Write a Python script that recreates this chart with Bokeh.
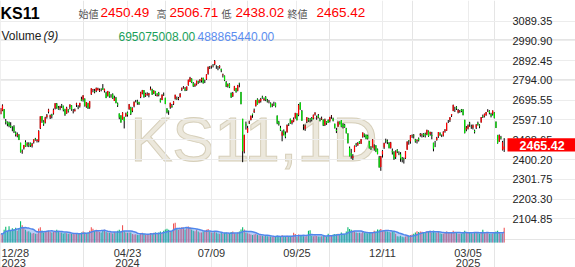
from bokeh.plotting import figure
from bokeh.models import Range1d, FixedTicker, Grid, Label, ColumnDataSource
from bokeh.embed import file_html
from bokeh.resources import INLINE
import pandas as pd

# ---------------- data (KS11 daily, 2023-12-28 .. 2025-04-04) ----------------
opens = [2627,2645,2651,2592,2586,2584,2570,2563,2563,2535,
 2519,2523,2484,2438,2456,2488,2474,2478,2481,2468,
 2486,2504,2492,2491,2556,2617,2589,2585,2612,2638,
 2610,2625,2629,2654,2678,2658,2654,2671,2667,2650,
 2630,2649,2662,2670,2641,2641,2673,2662,2666,2700,
 2698,2703,2664,2681,2659,2726,2747,2742,2741,2745,
 2742,2748,2757,2741,2733,2718,2734,2716,2725,2692,
 2708,2679,2630,2620,2601,2612,2616,2634,2651,2661,
 2643,2666,2692,2689,2685,2712,2729,2746,2719,2723,
 2721,2747,2750,2730,2741,2718,2732,2700,2697,2724,
 2708,2655,2639,2661,2667,2678,2703,2704,2702,2712,
 2748,2756,2754,2746,2771,2788,2802,2782,2766,2774,
 2790,2792,2794,2807,2793,2800,2827,2859,2864,2869,
 2875,2858,2862,2860,2851,2820,2817,2787,2766,2777,
 2731,2716,2744,2757,2743,2780,2737,2603,2440,2578,
 2535,2585,2597,2627,2637,2667,2701,2683,2690,2713,
 2696,2712,2693,2688,2680,2670,2681,2682,2618,2586,
 2558,2519,2544,2525,2535,2578,2603,2582,2590,2606,
 2628,2622,2684,2642,2564,2554,2590,2604,2600,2607,
 2604,2625,2608,2620,2599,2601,2599,2572,2589,2597,
 2592,2616,2605,2579,2547,2565,2588,2596,2573,2574,
 2556,2530,2459,2433,2408,2439,2476,2470,2491,2479,
 2514,2526,2524,2519,2491,2459,2462,2455,2471,2451,
 2410,2363,2425,2460,2497,2494,2483,2458,2444,2436,
 2413,2449,2433,2427,2406,2400,2407,2449,2495,2490,
 2520,2520,2500,2494,2505,2522,2521,2529,2526,2525,
 2541,2527,2522,2484,2483,2497,2515,2532,2522,2519,
 2541,2544,2591,2596,2619,2642,2654,2661,2635,2640,
 2649,2650,2598,2550,2555,2580,2565,2559,2544,2560,
 2582,2571,2585,2616,2615,2622,2641,2642,2627,2627,
 2634,2588,2522,2490,2511,2449,2450.49]

highs = [2657,2675,2652,2602,2590,2589,2586,2566,2571,2540,
 2535,2527,2484,2450,2473,2496,2486,2486,2485,2483,
 2501,2508,2502,2546,2615,2617,2596,2613,2627,2653,
 2624,2628,2654,2681,2682,2667,2668,2677,2669,2653,
 2663,2651,2675,2671,2652,2654,2683,2671,2683,2713,
 2721,2705,2687,2683,2691,2755,2752,2752,2759,2758,
 2754,2755,2776,2753,2738,2742,2738,2726,2730,2718,
 2712,2684,2630,2621,2636,2613,2634,2639,2677,2663,
 2660,2689,2697,2698,2688,2738,2747,2746,2733,2735,
 2732,2764,2753,2746,2742,2731,2737,2705,2725,2734,
 2708,2656,2645,2683,2677,2691,2723,2714,2712,2731,
 2759,2766,2761,2764,2798,2812,2805,2786,2780,2793,
 2793,2800,2808,2808,2798,2825,2863,2866,2868,2876,
 2896,2870,2866,2870,2853,2828,2819,2791,2779,2780,
 2734,2737,2767,2757,2772,2783,2737,2603,2524,2589,
 2568,2594,2619,2629,2654,2697,2705,2699,2707,2718,
 2709,2716,2702,2697,2685,2679,2688,2684,2620,2593,
 2568,2545,2550,2540,2575,2581,2604,2597,2610,2633,
 2631,2677,2685,2647,2575,2575,2611,2608,2607,2612,
 2624,2636,2619,2627,2608,2614,2600,2604,2591,2600,
 2613,2622,2609,2579,2558,2590,2590,2596,2581,2578,
 2558,2531,2465,2453,2427,2470,2483,2487,2492,2502,
 2535,2530,2525,2524,2493,2467,2502,2476,2471,2455,
 2418,2418,2447,2484,2504,2500,2487,2488,2455,2442,
 2446,2452,2441,2437,2413,2410,2442,2491,2497,2522,
 2525,2527,2503,2501,2510,2532,2530,2532,2534,2549,
 2545,2539,2538,2484,2493,2513,2537,2536,2525,2541,
 2552,2583,2597,2611,2627,2674,2663,2666,2652,2647,
 2652,2651,2598,2567,2575,2588,2574,2575,2549,2576,
 2589,2576,2612,2624,2629,2637,2651,2646,2633,2645,
 2636,2590,2523,2525,2518,2493,2506.71]

lows = [2625,2641,2604,2575,2566,2561,2557,2541,2532,2515,
 2511,2497,2435,2429,2450,2463,2464,2462,2463,2460,
 2480,2494,2485,2486,2552,2583,2568,2580,2604,2630,
 2602,2605,2624,2650,2653,2648,2646,2657,2640,2618,
 2628,2634,2650,2643,2630,2640,2662,2651,2659,2691,
 2689,2664,2658,2652,2653,2722,2735,2730,2736,2745,
 2737,2740,2747,2734,2706,2714,2708,2708,2702,2692,
 2680,2662,2601,2584,2599,2555,2613,2614,2648,2622,
 2636,2660,2685,2673,2672,2706,2725,2708,2712,2718,
 2710,2745,2722,2726,2717,2714,2715,2684,2696,2717,
 2676,2630,2623,2653,2658,2672,2699,2697,2696,2709,
 2742,2753,2741,2742,2768,2786,2781,2762,2762,2769,
 2777,2782,2784,2778,2781,2797,2823,2851,2853,2859,
 2870,2852,2845,2853,2835,2809,2791,2761,2759,2756,
 2707,2712,2743,2733,2740,2760,2675,2386.96,2431,2549,
 2534,2577,2595,2608,2632,2664,2674,2680,2684,2703,
 2693,2691,2684,2680,2660,2661,2667,2660,2576,2569,
 2542,2491,2520,2506,2535,2567,2578,2575,2586,2604,
 2595,2616,2648,2593,2548,2543,2582,2588,2585,2590,
 2600,2619,2598,2606,2590,2597,2567,2567,2573,2583,
 2585,2603,2590,2555,2532,2563,2575,2561,2555,2558,
 2530,2480,2416,2404,2398,2437,2463,2469,2478,2478,
 2509,2511,2501,2500,2455,2448,2460,2444,2437,2426,
 2360,2344,2410,2453,2481,2477,2456,2455,2425,2398,
 2403,2432,2422,2389,2386,2380,2403,2449,2474,2479,
 2508,2505,2484,2480,2490,2514,2510,2512,2510,2521,
 2513,2519,2501,2441,2462,2494,2508,2518,2512,2515,
 2534,2543,2582,2587,2612,2641,2637,2647,2630,2633,
 2636,2620,2530,2541,2550,2563,2553,2550,2530,2552,
 2569,2556,2584,2607,2610,2618,2637,2625,2610,2619,
 2605,2557,2479,2488,2500,2445,2438.02]

closes = [2655.28,2669.81,2607.31,2587.02,2578.08,2567.82,2561.24,2562.24,2540.27,2525.05,
 2525.99,2497.59,2435.90,2440.04,2472.74,2464.35,2478.61,2469.69,2470.34,2478.56,
 2500.65,2498.81,2497.09,2542.46,2615.31,2591.31,2576.20,2609.58,2620.32,2649.64,
 2620.42,2617.80,2648.76,2680.26,2657.79,2653.31,2664.27,2667.70,2647.08,2625.05,
 2658.63,2642.36,2674.27,2649.40,2641.49,2647.62,2680.35,2660.30,2681.81,2693.57,
 2718.76,2666.84,2685.84,2656.17,2690.14,2754.86,2748.56,2737.57,2757.09,2755.11,
 2745.82,2746.63,2747.86,2753.16,2706.97,2742.00,2714.21,2717.65,2705.16,2706.96,
 2681.82,2670.43,2609.63,2584.18,2634.70,2591.86,2629.44,2623.02,2675.75,2628.62,
 2656.33,2687.44,2692.06,2683.65,2676.63,2734.36,2745.05,2712.14,2727.63,2727.21,
 2730.34,2753.00,2724.62,2742.14,2724.18,2723.46,2721.81,2687.60,2722.99,2722.85,
 2677.30,2635.44,2636.52,2682.52,2662.10,2689.50,2722.67,2701.17,2705.30,2728.17,
 2754.89,2758.42,2744.10,2763.92,2797.33,2807.63,2784.06,2764.73,2774.39,2792.05,
 2784.26,2797.82,2804.31,2780.86,2794.01,2824.94,2862.23,2857.76,2867.38,2867.99,
 2891.35,2857.00,2860.92,2866.09,2843.89,2824.35,2795.46,2763.51,2774.29,2758.71,
 2710.65,2731.90,2765.52,2738.19,2770.69,2777.68,2676.19,2441.55,2522.15,2568.41,
 2556.73,2588.43,2618.30,2621.50,2644.50,2697.23,2674.36,2696.63,2701.13,2707.67,
 2701.69,2698.01,2689.25,2689.83,2662.28,2674.31,2681.00,2664.63,2580.80,2576.20,
 2544.28,2535.93,2523.43,2513.37,2572.09,2575.41,2580.80,2593.37,2602.01,2631.68,
 2596.32,2671.57,2649.78,2593.27,2561.69,2569.71,2610.38,2594.36,2599.16,2596.91,
 2623.28,2633.45,2610.36,2609.30,2593.82,2604.07,2570.70,2599.62,2581.03,2583.27,
 2612.43,2617.80,2593.79,2556.15,2542.36,2588.97,2576.88,2563.51,2564.63,2561.15,
 2531.66,2482.57,2417.08,2418.86,2416.86,2469.07,2471.95,2482.29,2480.63,2501.24,
 2534.34,2520.36,2503.06,2504.67,2455.91,2453.95,2500.10,2464.00,2441.85,2428.16,
 2360.58,2417.84,2442.51,2482.12,2494.46,2488.97,2456.81,2484.43,2435.93,2404.15,
 2442.01,2440.52,2429.67,2404.77,2399.49,2398.94,2441.92,2488.64,2492.10,2521.05,
 2521.90,2515.78,2489.56,2497.42,2496.52,2527.49,2523.55,2520.05,2518.03,2547.06,
 2515.78,2536.80,2517.37,2453.95,2481.69,2509.27,2536.75,2521.92,2521.27,2539.05,
 2548.39,2583.17,2591.05,2610.42,2626.81,2671.52,2654.06,2654.58,2645.27,2641.09,
 2641.32,2621.75,2532.78,2558.13,2570.39,2576.16,2563.48,2570.39,2537.60,2574.82,
 2575.24,2566.36,2610.69,2612.34,2628.62,2637.10,2643.13,2632.95,2616.82,2643.94,
 2607.15,2557.98,2481.12,2521.39,2505.86,2486.70,2465.42]

# volume in millions of shares
volumes_m = [420,380,600,750,520,770,560,680,620,700,560,690,1010,820,700,610,520,540,480,430,450,410,420,
 660,720,560,480,520,540,560,510,480,500,560,600,520,480,470,430,450,440,420,
 430,410,420,390,440,400,430,470,520,480,450,470,560,720,650,560,600,540,500,480,
 560,600,500,480,460,470,430,500,470,560,610,520,820,540,480,460,480,470,400,380,390,
 370,360,430,460,420,380,370,400,450,420,460,480,430,470,520,440,560,620,650,600,
 540,520,900,940,650,600,640,720,700,620,680,760,730,620,560,540,600,520,480,
 470,520,560,600,640,520,480,460,520,480,430,410,450,420,460,470,420,400,500,520,440,420,480,
 520,620,730,620,480,440,410,380,360,380,400,370,340,330,320,300,310,300,290,280,270,
 260,280,330,300,290,340,280,270,320,260,300,290,460,400,260,380,320,350,
 300,280,320,560,580,320,300,330,310,290,280,300,320,310,290,420,340,360,380,400,
 390,420,380,480,420,400,520,730,640,600,560,520,480,450,460,440,520,470,450,440,480,
 460,500,560,520,620,600,640,560,580,540,520,500,480,520,520,420,300,280,320,270,
 250,290,310,310,360,380,420,480,540,500,520,510,480,500,540,520,560,480,
 560,480,460,500,440,420,430,450,520,480,470,450,560,480,460,420,410,430,470,560,
 480,460,500,440,420,480,450,470,430,480,600,440,460,450,420,420,430,450,520,554.713952,
 470,420,440,695.075008]

tick_idx = [0, 77, 128, 180, 232, 284]
tick_dates = ["12/28", "04/23", "07/09", "09/25", "12/11", "03/05"]
tick_years = ["2023", "2024", "", "", "", "2025"]
price_ticks = [2104.85, 2203.30, 2301.75, 2400.20, 2498.65, 2597.10,
               2695.55, 2794.00, 2892.45, 2990.90, 3089.35]
symbol = "KS11"
watermark = "KS11,1D"
vol_ma_period = 9

# ---------------- layout / styling ----------------
W, H = 575, 267            # canvas (the frame spans all of it)
PW, PH = 507, 242          # pane area (left of the price scale, above the date scale)
PX_PER_BAR = 1.645
X0 = -0.2
PRICE_TOP, PRICE_PER_PX = 3192.48, 4.9823
VOL_PER_PX = 47.5e6
UP, DOWN = "#ff0000", "#00e600"
VUP, VDOWN = "#f05050", "#00b86b"
GRID = "#ececec"
FONT = "Liberation Sans"
CJK = "Noto Sans CJK JP"

n = len(closes)
xs = list(range(n))
is_up = [c >= o for o, c in zip(opens, closes)]
vol = [v * 1e6 for v in volumes_m]
vol_ma = pd.Series(vol).rolling(vol_ma_period, min_periods=1).mean().tolist()

src = ColumnDataSource(dict(
    x=xs, o=opens, h=highs, l=lows, c=closes,
    top=[max(o, c) for o, c in zip(opens, closes)],
    bot=[min(o, c) for o, c in zip(opens, closes)],
    col=[UP if u else DOWN for u in is_up],
    vcol=[VUP if u else VDOWN for u in is_up],
    v=vol, vma=vol_ma,
))

x_end = X0 + W / PX_PER_BAR
x_pane_end = X0 + PW / PX_PER_BAR
y_bot = PRICE_TOP - H * PRICE_PER_PX
y_pane_bot = PRICE_TOP - PH * PRICE_PER_PX

p = figure(width=W, height=H, output_backend="svg", toolbar_location=None,
           x_range=Range1d(X0, x_end), y_range=Range1d(y_bot, PRICE_TOP),
           x_axis_location=None, y_axis_location=None,
           min_border=0, outline_line_color=None,
           background_fill_color="white", border_fill_color="white")
p.extra_y_ranges = {"vol": Range1d(-(H - PH) * VOL_PER_PX, PH * VOL_PER_PX)}

p.add_layout(Grid(dimension=1, ticker=FixedTicker(ticks=price_ticks), grid_line_color=GRID,
                  bounds=(X0, x_pane_end)))
p.add_layout(Grid(dimension=0, ticker=FixedTicker(ticks=tick_idx), grid_line_color=GRID,
                  bounds=(y_pane_bot, PRICE_TOP)))

# watermark
p.add_layout(Label(x=PW / 2, y=H - 138.3, x_units="screen", y_units="screen",
                   text=watermark, text_font=FONT, text_font_size="63px",
                   text_align="center", text_baseline="alphabetic",
                   text_color="#ece8dc", text_outline_color="#d6cfba", level="image"))

# volume + MA
p.vbar(x="x", top="v", bottom=0, width=0.65, source=src, y_range_name="vol",
       fill_color="vcol", line_color=None)
p.varea(x="x", y1=0, y2="vma", source=src, y_range_name="vol",
        fill_color="#6496f0", fill_alpha=0.45)
p.line(x="x", y="vma", source=src, y_range_name="vol", line_color="#4f86ec", line_width=1.5)

# candles
p.segment(x0="x", y0="l", x1="x", y1="h", source=src, line_color="#000000", line_width=1)
p.vbar(x="x", top="top", bottom="bot", width=0.75, source=src, fill_color="col", line_color=None)


def txt(x, base, s, size, color, font=FONT, style="normal", x_units="screen", align="left"):
    p.add_layout(Label(x=x, y=H - base, x_units=x_units, y_units="screen", text=s,
                       text_font=font, text_font_size=f"{size}px", text_color=color,
                       text_font_style=style, text_align=align, text_baseline="alphabetic"))


# header
txt(0, 13.3, symbol, 16, "#000000", style="bold")
txt(78, 13, "始値", 10, "#555555", font=CJK)
txt(100, 12, f"{opens[-1]:.2f}", 13.5, "#ff0000")
txt(156, 13, "高", 10, "#555555", font=CJK)
txt(169, 12, f"{highs[-1]:.2f}", 13.5, "#ff0000")
txt(221, 13, "低", 10, "#555555", font=CJK)
txt(235, 12, f"{lows[-1]:.2f}", 13.5, "#ff0000")
txt(287, 13, "終値", 10, "#555555", font=CJK)
txt(316, 12, f"{closes[-1]:.2f}", 13.5, "#ff0000")
txt(1, 35.5, "Volume", 12, "#222222")
txt(43, 35.5, f"({vol_ma_period})", 12, "#222222", style="italic")
txt(118, 35.5, f"{vol[-1]:.2f}", 12, "#1a9f5a")
txt(197, 35.5, f"{round(vol_ma[-1]):.2f}", 12, "#5b8def")

# date scale
for i, (t, d, y) in enumerate(zip(tick_idx, tick_dates, tick_years)):
    if i == 0:
        kw = dict(x=1, x_units="screen", align="left")
    else:
        kw = dict(x=t, x_units="data", align="center")
    txt(base=252, s=d, size=11, color="#333333", **kw)
    if y:
        txt(base=262, s=y, size=11, color="#333333", **kw)

# price scale
for t in price_ticks:
    p.add_layout(Label(x=PW + 5, y=t, x_units="screen", y_units="data", text=f"{t:.2f}",
                       text_font=FONT, text_font_size="11px", text_color="#222222",
                       text_align="left", text_baseline="middle"))

# last price tag (box drawn on top of the price scale)
last = closes[-1]
p.quad(left=[x_pane_end], right=[x_end], top=[last + 8.2 * PRICE_PER_PX],
       bottom=[last - 5.1 * PRICE_PER_PX], fill_color="#ff0000", line_color=None,
       level="overlay")
lbl = Label(x=PW + 12, y=last + 1 * PRICE_PER_PX, x_units="screen", y_units="data",
            text=f"{last:.2f}", text_font=FONT, text_font_size="12.5px",
            text_font_style="bold", text_color="white", text_align="left",
            text_baseline="middle")
lbl.level = "overlay"
p.add_layout(lbl)

open("out.html", "w").write(file_html(p, INLINE))
